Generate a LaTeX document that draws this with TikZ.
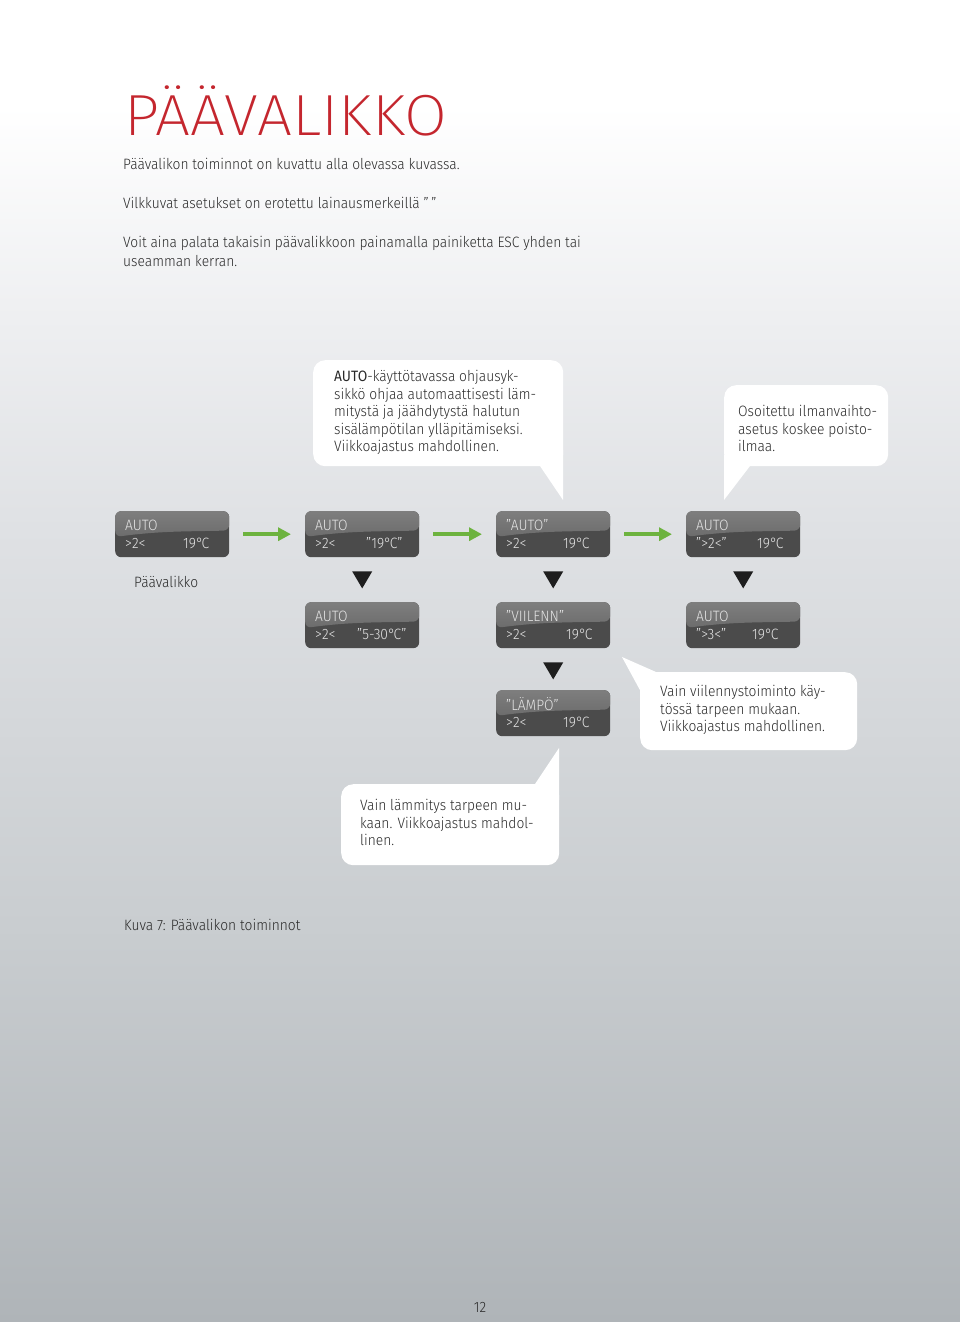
\documentclass[tikz,border=0pt]{standalone}
\usepackage{fontspec}
\setmainfont{Fira Sans Light}[BoldFont={Fira Sans}, FakeStretch=0.92]
\newfontfamily\titlefont{Fira Sans ExtraLight}
\usetikzlibrary{calc,arrows.meta}
\definecolor{bg0}{HTML}{AFB4B8}
\definecolor{bg1}{HTML}{C9CDD0}
\definecolor{bg2}{HTML}{DFE1E4}
\definecolor{bg3}{HTML}{EEEFF1}
\definecolor{titlered}{HTML}{C4262E}
\definecolor{bodytext}{HTML}{2A2A2A}
\definecolor{dispdark}{HTML}{4B4B4B}
\definecolor{disptop}{HTML}{7E7E7E}
\definecolor{dispmid}{HTML}{5E5E5E}
\definecolor{disptext}{HTML}{E4E4E4}
\definecolor{arrowgreen}{HTML}{6DB33F}
\definecolor{tridark}{HTML}{1E1E1E}
\pgfdeclareverticalshading{pagebg}{100bp}{color(0bp)=(bg0); color(25bp)=(bg0); color(40bp)=(bg1); color(55bp)=(bg2); color(63bp)=(bg3); color(71bp)=(white); color(100bp)=(white)}
\newcommand\dg{°\kern-1.5pt }
\newcommand\dispbox[7]{%
  \node[disp] (#1) at (#2,#3) {};
  \node[dtext] (#1a) at ($(#1.north west)+(10,14)$) {#4};
  \node[dtext] (#1b) at ($(#1.north west)+(10,32)$) {#5};
  \node[dtext] (#1c) at ($(#6,#3)+(0,32)$) {#7};
}
\begin{document}
\begin{tikzpicture}[x=1pt,y=-1pt,
  disp/.style={rectangle, rounded corners=6pt, minimum width=114pt, minimum height=46pt,
    fill=dispdark, anchor=north west, inner sep=0pt,
    path picture={\shade[top color=disptop, bottom color=dispmid]
      (path picture bounding box.north west) -- (path picture bounding box.north east)
      -- ($(path picture bounding box.north east)!0.42!(path picture bounding box.south east)$)
      .. controls +(-45,1) and +(45,-6) ..
      ($(path picture bounding box.north west)!0.56!(path picture bounding box.south west)$) -- cycle;}},
  dtext/.style={anchor=west, inner sep=0pt, text=disptext, font=\fontsize{15}{16}\selectfont},
  body/.style={anchor=base west, inner sep=0pt, text=bodytext, align=left, font=\fontsize{15}{19}\selectfont},
  bubble/.style={rectangle, rounded corners=12pt, fill=white, anchor=north west, inner sep=0pt},
  btext/.style={anchor=west, inner sep=0pt, align=left, text=bodytext, font=\fontsize{15}{17.6}\selectfont},
  tail/.style={fill=white},
  garrow/.style={draw=arrowgreen, line width=3.5pt, -{Triangle[length=13pt,width=13pt]}, shorten <=14pt, shorten >=14pt},
  downtri/.style={fill=tridark}
]
\useasboundingbox (0,0) rectangle (960,1322);
\shade[shading=pagebg] (0,0) rectangle (960,1322);

% title and intro
\node[anchor=base west, inner sep=0pt, text=titlered, font=\titlefont\fontsize{58}{60}\selectfont] (title) at (124,135) {\scalebox{1.07}[1]{PÄÄVALIKKO}};
\node[body] (t1) at (123,169) {Päävalikon toiminnot on kuvattu alla olevassa kuvassa.};
\node[body] (t2) at (123,208) {Vilkkuvat asetukset on erotettu lainausmerkeillä ”\,”};
\node[body] (t3) at (123,266) {Voit aina palata takaisin päävalikkoon painamalla painiketta ESC yhden tai\\useamman kerran.};

% bubbles
\fill[tail] (540,450) -- (563,450) -- (563,500) -- (540,466) -- cycle;
\node[bubble, minimum width=250pt, minimum height=106pt] (b1) at (313,360) {};
\node[btext] (b1t) at (334,412.5)
  {\textbf{AUTO}-käyttötavassa ohjausyk-\\sikkö ohjaa automaattisesti läm-\\mitystä ja jäähdytystä halutun\\sisälämpötilan ylläpitämiseksi.\\Viikkoajastus mahdollinen.};
\fill[tail] (724,455) -- (750,455) -- (750,466) -- (724,500) -- cycle;
\node[bubble, minimum width=164pt, minimum height=81pt] (b2) at (724,385) {};
\node[btext] (b2t) at (738,428.5) {Osoitettu ilmanvaihto-\\asetus koskee poisto-\\ilmaa.};
\fill[tail] (622,657) -- (656,672) -- (656,692) -- (641,692) -- cycle;
\node[bubble, minimum width=217pt, minimum height=78pt] (b3) at (640,672) {};
\node[btext] (b3t) at (660,710) {Vain viilennystoiminto käy-\\tössä tarpeen mukaan.\\Viikkoajastus mahdollinen.};
\fill[tail] (559,748) -- (559,800) -- (535,800) -- (535,784) -- cycle;
\node[bubble, minimum width=218pt, minimum height=81pt] (b4) at (341,784) {};
\node[btext] (b4t) at (360,822.5) {Vain lämmitys tarpeen mu-\\kaan. Viikkoajastus mahdol-\\linen.};

% displays
\dispbox{d1}{115}{511}{AUTO}{>2<}{183}{19\dg C}
\dispbox{d2}{305}{511}{AUTO}{>2<}{366}{”19\dg C”}
\dispbox{d3}{496}{511}{”AUTO”}{>2<}{563}{19\dg C}
\dispbox{d4}{686}{511}{AUTO}{”>2<”}{757}{19\dg C}
\dispbox{e2}{305}{602}{AUTO}{>2<}{357}{”5-30\dg C”}
\dispbox{e3}{496}{602}{”VIILENN”}{>2<}{566}{19\dg C}
\dispbox{e4}{686}{602}{AUTO}{”>3<”}{752}{19\dg C}
\dispbox{f3}{496}{690}{”LÄMPÖ”}{>2<}{563}{19\dg C}

% green arrows
\draw[garrow] (d1) -- (d2);
\draw[garrow] (d2) -- (d3);
\draw[garrow] (d3) -- (d4);

% down triangles
\foreach \n in {d2,d3,d4,e3}{
  \fill[downtri] ($(\n.south)+(-10,14)$) -- ++(20,0) -- ++(-10,17) -- cycle;
}

\node[body] (lbl) at (134,587) {Päävalikko};
\node[body] (cap) at (124,930) {Kuva 7: Päävalikon toiminnot};
\node[anchor=base, inner sep=0pt, text=bodytext, font=\fontsize{15}{16}\selectfont] (page) at (480,1312) {12};
\end{tikzpicture}
\end{document}
